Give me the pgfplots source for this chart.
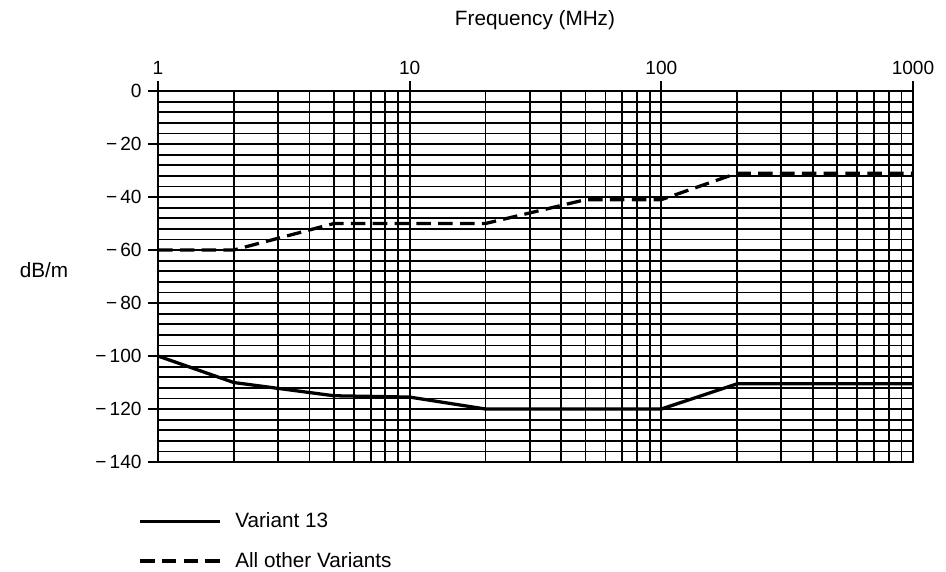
\documentclass[border=0pt]{standalone}
\usepackage{pgfplots}
\pgfplotsset{compat=1.18}
\usepackage{fontspec}
\setmainfont{Liberation Sans}

% 1 px of the reference = 0.55pt
\def\u{0.55pt}

\begin{document}
\begin{tikzpicture}
\useasboundingbox (0,0) rectangle (946*\u,-571*\u);

\begin{axis}[
    at={(158*\u,-462*\u)}, anchor=south west,
    scale only axis,
    width=415.25pt, height=204.05pt,
    xmode=log, log basis x=10,
    xmin=1, xmax=1000, ymin=-140, ymax=0,
    xtick={1,10,100,1000},
    xticklabels={1,10,100,1000},
    minor xtick={2,3,4,5,6,7,8,9,20,30,40,50,60,70,80,90,200,300,400,500,600,700,800,900},
    ytick={0,-20,-40,-60,-80,-100,-120,-140},
    yticklabels={0,−\,20,−\,40,−\,60,−\,80,−\,100,−\,120,−\,140},
    minor ytick={-136,-132,-128,-124,-116,-112,-108,-104,-96,-92,-88,-84,-76,-72,-68,-64,-56,-52,-48,-44,-36,-32,-28,-24,-16,-12,-8,-4},
    grid=both,
    grid style={black, line width=1pt},
    major grid style={black, line width=1pt},
    minor grid style={black, line width=1pt},
    axis line style={black, line width=1.1pt},
    xticklabel pos=upper,
    xtick pos=upper, ytick pos=left,
    tick align=outside,
    major tick length=5.5pt,
    minor tick length=0pt,
    tick style={black, line width=1pt},
    tick label style={font=\fontsize{10.5}{12}\selectfont},
    legend style={at={(-0.0265,-0.135)}, anchor=north west, draw=none, fill=none,
        inner sep=0pt, row sep=12pt,
        font=\fontsize{11.4}{13}\selectfont,
        nodes={inner sep=0pt},
        /tikz/every odd column/.append style={column sep=7.5pt}},
    legend cell align=left,
    legend image code/.code={\draw[#1] (0pt,0pt) -- (44pt,0pt);},
]
\addplot[black, line width=1.8pt] coordinates {
    (1,-100) (2,-110) (5,-115) (10,-115.5) (20,-120) (100,-120) (200,-110.5) (1000,-110.5)
};
\addlegendentry{Variant 13}
\addplot[black, line width=1.8pt, dash pattern=on 8pt off 4pt] coordinates {
    (1,-60) (2,-60) (5,-50) (20,-50) (50,-41) (100,-41) (200,-31) (1000,-31)
};
\addlegendentry{All other Variants}
\end{axis}

\node[font=\fontsize{11.4}{13}\selectfont] at (535*\u,-20*\u) {Frequency (MHz)};
\node[font=\fontsize{11.4}{13}\selectfont] at (44*\u,-270*\u) {dB/m};
\end{tikzpicture}
\end{document}
